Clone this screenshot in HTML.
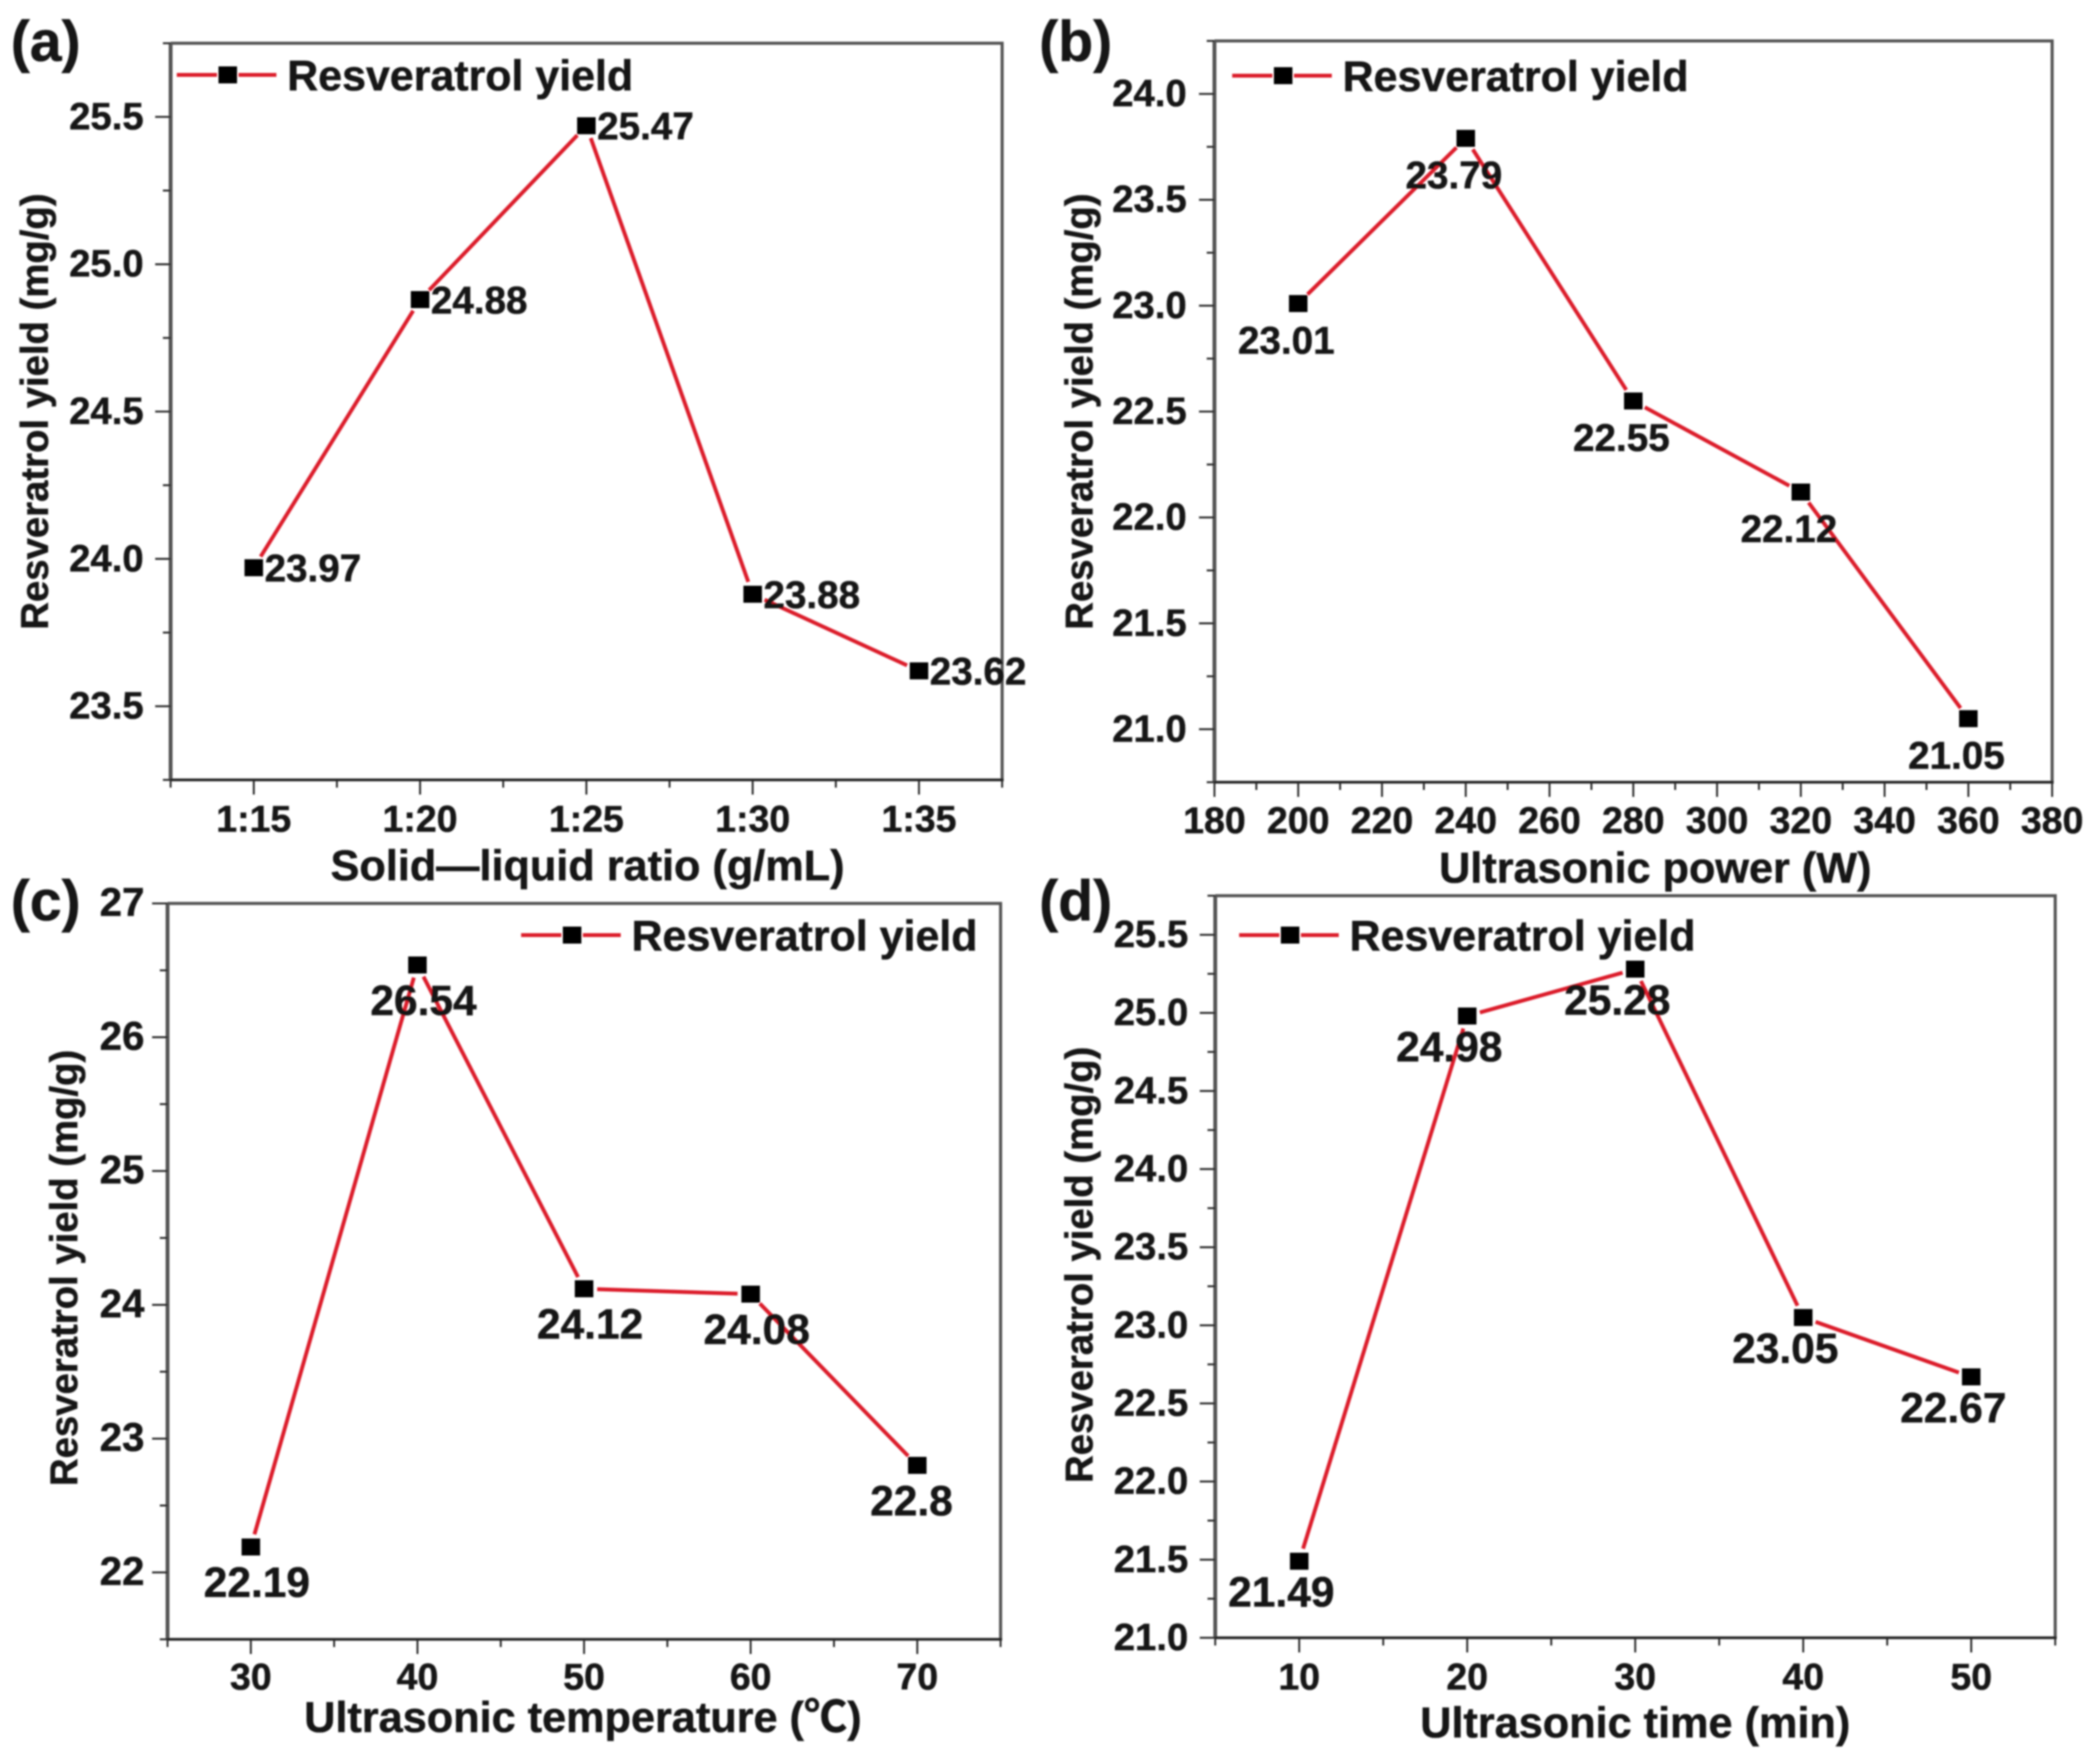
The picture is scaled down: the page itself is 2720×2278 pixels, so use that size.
<!DOCTYPE html>
<html lang="en">
<head>
<meta charset="utf-8">
<title>Resveratrol yield single-factor charts</title>
<style>
html,body{margin:0;padding:0;background:#fff;}
svg{display:block;}
text{font-family:"Liberation Sans","Noto Sans CJK SC",sans-serif;font-weight:bold;fill:#141414;stroke:#141414;stroke-width:0.6;}
</style>
</head>
<body>
<svg id="figure" xmlns="http://www.w3.org/2000/svg" width="2720" height="2278" viewBox="0 0 2720 2278">
<defs><filter id="soft" x="-2%" y="-2%" width="104%" height="104%"><feGaussianBlur stdDeviation="1"/></filter></defs>
<rect width="2720" height="2278" fill="#fff"/>
<g id="root" filter="url(#soft)"></g>
</svg>
<script>
// Panel (a)
const categoriesA = ["1:15","1:20","1:25","1:30","1:35"];
const valuesA = [23.97,24.88,25.47,23.88,23.62];
const yTicksA = ["23.5","24.0","24.5","25.0","25.5"];
// Panel (b)
const categoriesB = [200,240,280,320,360];
const valuesB = [23.01,23.79,22.55,22.12,21.05];
const yTicksB = ["21.0","21.5","22.0","22.5","23.0","23.5","24.0"];
const xTicksB = [180,200,220,240,260,280,300,320,340,360,380];
// Panel (c)
const categoriesC = [30,40,50,60,70];
const valuesC = [22.19,26.54,24.12,24.08,22.8];
const yTicksC = ["22","23","24","25","26","27"];
const xTicksC = [30,40,50,60,70];
// Panel (d)
const categoriesD = [10,20,30,40,50];
const valuesD = [21.49,24.98,25.28,23.05,22.67];
const yTicksD = ["21.0","21.5","22.0","22.5","23.0","23.5","24.0","24.5","25.0","25.5"];
const xTicksD = [10,20,30,40,50];

const NS = "http://www.w3.org/2000/svg";
const root = document.getElementById("root");

function make(tag, attrs, parent, txt) {
  const el = document.createElementNS(NS, tag);
  for (const k in attrs) el.setAttribute(k, attrs[k]);
  if (txt !== undefined) el.textContent = txt;
  parent.appendChild(el);
  return el;
}

const RED = "#dc1a2c";
const TICK = "#2a2a2a";
const SPINE = "#555555";

function drawPanel(p) {
  const g = make("g", {}, root);
  
  

  const sx = v => p.left + (v - p.xMin) / (p.xMax - p.xMin) * (p.right - p.left);
  const sy = v => p.bottom - (v - p.yMin) / (p.yMax - p.yMin) * (p.bottom - p.top);

  // spines
  const leftSpine = make("line", {x1:p.left, x2:p.left, y1:p.top, y2:p.bottom, stroke:SPINE, "stroke-width":5}, g);
  
  
  const rightSpine = make("line", {x1:p.right, x2:p.right, y1:p.top, y2:p.bottom, stroke:SPINE, "stroke-width":4}, g);
  
  
  const topSpine = make("line", {x1:p.left, x2:p.right+2, y1:p.top, y2:p.top, stroke:SPINE, "stroke-width":4}, g);
  
  
  const bottomSpine = make("line", {x1:p.left, x2:p.right+2, y1:p.bottom, y2:p.bottom, stroke:"#222222", "stroke-width":3.5}, g);
  
  

  // y ticks
  const yMajor = p.yLabels.map(Number);
  for (let i = 0; ; i++) {
    const v = p.yMin + i * p.yMinorStep;
    if (v > p.yMax + 1e-6) break;
    const isMajor = yMajor.some(m => Math.abs(m - v) < 1e-6);
    const tick = make("line", {x1:p.left, x2:p.left-(isMajor?20:10), y1:sy(v), y2:sy(v), stroke:TICK, "stroke-width":2.5}, g);
    
    
  }
  p.yLabels.forEach(label => {
    const t = make("text", {x:p.yLabelX, y:sy(Number(label)) + 16, "text-anchor":"end", "font-size":p.yFont}, g, label);
    
    
  });

  // x ticks
  const xMajor = p.xTickValues;
  for (let i = 0; ; i++) {
    const v = p.xMin + i * p.xMinorStep;
    if (v > p.xMax + 1e-6) break;
    const isMajor = xMajor.some(m => Math.abs(m - v) < 1e-6);
    const tick = make("line", {x1:sx(v), x2:sx(v), y1:p.bottom, y2:p.bottom+(isMajor?19:10), stroke:TICK, "stroke-width":2.5}, g);
    
    
  }
  xMajor.forEach((v, i) => {
    const t = make("text", {x:sx(v), y:p.xLabelY, "text-anchor":"middle", "font-size":48.5}, g, p.xLabels[i]);
    
    
  });

  // axis titles
  const xt = make("text", {x:p.xTitleX, y:p.xTitleY, "text-anchor":"middle", "font-size":56}, g, p.xTitle);
  
  
  const yt = make("text", {transform:"translate("+p.yTitleX+","+p.yTitleY+") rotate(-90)", "text-anchor":"middle", "font-size":49.6}, g, "Resveratrol yield (mg/g)");
  
  

  // series line, with a small gap around each marker
  const px = p.xPositions.map(sx);
  const py = p.values.map(sy);
  for (let i = 0; i < px.length - 1; i++) {
    const dx = px[i+1]-px[i], dy = py[i+1]-py[i], len = Math.hypot(dx, dy);
    const gap = Math.min(17, len / 3);
    const seg = make("line", {
      x1:px[i]+dx/len*gap, y1:py[i]+dy/len*gap,
      x2:px[i+1]-dx/len*gap, y2:py[i+1]-dy/len*gap,
      stroke:RED, "stroke-width":5}, g);
    
    
  }
  // markers and printed values
  p.values.forEach((v, i) => {
    const m = make("rect", {x:px[i]-12, y:py[i]-11, width:24, height:22, fill:"#050505"}, g);
    
    
    const t = make("text", {x:px[i]+p.valueDx, y:py[i]+p.valueDy+p.valueFont*0.358, "font-size":p.valueFont}, g, String(v));
    
    
  });

  // legend
  const lg = make("g", {}, g);
  
  
  const ll1 = make("line", {x1:p.legendX-2, x2:p.legendX+50, y1:p.legendY, y2:p.legendY, stroke:RED, "stroke-width":5}, lg);
  
  
  const ll2 = make("line", {x1:p.legendX+78, x2:p.legendX+127, y1:p.legendY, y2:p.legendY, stroke:RED, "stroke-width":5}, lg);
  
  
  const lm = make("rect", {x:p.legendX+52, y:p.legendY-11, width:24, height:22, fill:"#050505"}, lg);
  
  
  const lt = make("text", {x:p.legendX+141, y:p.legendY+20, "font-size":55.6}, lg, "Resveratrol yield");
  
  

  // panel letter
  const pl = make("text", {x:p.letterX, y:p.letterY, "font-size":74}, g, "(" + p.id + ")");
  
  
}

drawPanel({id:"a", left:221, right:1298, top:56, bottom:1010, xMin:0.5, xMax:5.5, xMinorStep:0.5,
  yMin:23.25, yMax:25.75, yMinorStep:0.25,
  values:valuesA, xPositions:categoriesA.map((c,i)=>i+1), xTickValues:categoriesA.map((c,i)=>i+1), xLabels:categoriesA, yLabels:yTicksA,
  yLabelX:186, yFont:49.5, xLabelY:1077, xTitle:"Solid\u2014liquid ratio (g/mL)", xTitleX:761, xTitleY:1140, yTitleX:62, yTitleY:533,
  valueDx:14, valueDy:0, valueFont:50, legendX:231, legendY:97, letterX:14, letterY:79});

drawPanel({id:"b", left:1573, right:2658, top:53, bottom:1013, xMin:180, xMax:380, xMinorStep:10,
  yMin:20.75, yMax:24.25, yMinorStep:0.25,
  values:valuesB, xPositions:categoriesB, xTickValues:xTicksB, xLabels:xTicksB, yLabels:yTicksB,
  yLabelX:1537, yFont:49.5, xLabelY:1079, xTitle:"Ultrasonic power (W)", xTitleX:2144, xTitleY:1143, yTitleX:1415, yTitleY:533,
  valueDx:-78, valueDy:47, valueFont:50, legendX:1598, legendY:98, letterX:1346, letterY:79});

drawPanel({id:"c", left:217, right:1296, top:1170, bottom:2123, xMin:25, xMax:75, xMinorStep:5,
  yMin:21.5, yMax:27, yMinorStep:0.5,
  values:valuesC, xPositions:categoriesC, xTickValues:xTicksC, xLabels:xTicksC, yLabels:yTicksC,
  yLabelX:187, yFont:52, xLabelY:2188, xTitle:"Ultrasonic temperature (\u2103)", xTitleX:755, xTitleY:2243, yTitleX:100, yTitleY:1642,
  valueDx:-61, valueDy:45, valueFont:55, legendX:677, legendY:1211, letterX:14, letterY:1192});

drawPanel({id:"d", left:1574, right:2662, top:1160, bottom:2121, xMin:5, xMax:55, xMinorStep:5,
  yMin:21, yMax:25.75, yMinorStep:0.25,
  values:valuesD, xPositions:categoriesD, xTickValues:xTicksD, xLabels:xTicksD, yLabels:yTicksD,
  yLabelX:1539, yFont:49.5, xLabelY:2188, xTitle:"Ultrasonic time (min)", xTitleX:2118, xTitleY:2250, yTitleX:1415, yTitleY:1638,
  valueDx:-92, valueDy:39, valueFont:55, legendX:1607, legendY:1211, letterX:1346, letterY:1192});
</script>
</body>
</html>
